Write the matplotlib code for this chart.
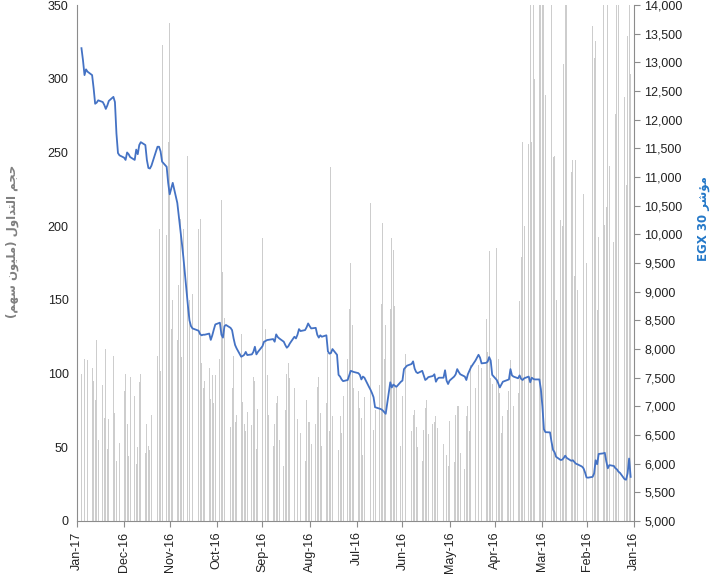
import numpy as np
import pandas as pd
import matplotlib
matplotlib.use("Agg")
import matplotlib.pyplot as plt
import matplotlib.dates as mdates
from matplotlib.ticker import MultipleLocator, FuncFormatter

# Daily volume (million shares), one value per Sun-Thu trading day of each month of 2016
vol_jan = [303, 400, 329, 228, 288, 326, 400, 400, 276, 189, 241, 400, 213, 201, 400, 193, 143, 326, 314, 336, 131]
vol_feb = [175, 205, 222, 120, 157, 245, 166, 245, 237, 400, 380, 310, 200, 204, 150, 248, 247, 400, 255, 289, 400]
vol_mar = [400, 390, 400, 300, 420, 257, 400, 256, 200, 257, 179, 149, 87, 78, 126, 109, 88, 75, 71, 60, 87, 110, 185]
vol_apr = [93, 97, 183, 115, 137, 104, 134, 106, 132, 90, 106, 61, 78, 71, 35, 46, 78, 78, 72, 40]
vol_may = [68, 37, 45, 60, 52, 62, 63, 71, 67, 66, 59, 82, 77, 62, 41, 50, 64, 75, 72, 61, 70, 113, 90]
vol_jun = [85, 51, 90, 146, 184, 192, 144, 133, 110, 202, 147, 92, 75, 62, 108, 216, 130, 84, 45, 70, 77, 88]
vol_jul = [90, 133, 175, 144, 110, 85, 60, 71, 48, 55, 71, 240, 61, 114, 80, 51, 73, 98, 91, 66, 52]
vol_aug = [67, 67, 82, 41, 60, 114, 69, 123, 90, 97, 107, 100, 75, 37, 55, 85, 80, 66, 51, 72, 99, 130, 110]
vol_sep = [192, 76, 49, 95, 98, 65, 74, 61, 66, 81, 127, 72, 67, 112, 90, 64, 85, 138, 169, 218, 110]
vol_oct = [99, 80, 99, 83, 104, 95, 90, 107, 205, 198, 162, 154, 234, 150, 248, 198, 111, 205, 160, 123, 150, 130]
vol_nov = [338, 257, 194, 323, 102, 198, 112, 117, 72, 48, 51, 66, 46, 100, 94, 50, 39, 85, 98, 44, 66, 100]
vol_dec = [88, 53, 85, 41, 73, 112, 69, 49, 117, 70, 92, 55, 123, 82, 95, 104, 109, 79, 110, 116, 100]

# EGX 30 close
egx_jan = [5770, 6090, 5830, 5720, 5730, 5840, 5860, 5900, 5920, 5960, 5975, 5920, 6040, 6190, 6180, 6170, 5990, 6060, 5830, 5770, 5756]
egx_feb = [5760, 5850, 5920, 5950, 5990, 6000, 6030, 6060, 6050, 6100, 6140, 6100, 6070, 6064, 6120, 6200, 6240, 6380, 6546, 6550, 6600]
egx_mar = [7000, 7300, 7470, 7470, 7480, 7500, 7420, 7520, 7490, 7460, 7480, 7540, 7490, 7520, 7540, 7650, 7470, 7460, 7430, 7380, 7330, 7400, 7460]
egx_apr = [7550, 7800, 7860, 7780, 7760, 7750, 7850, 7900, 7850, 7800, 7680, 7620, 7560, 7460, 7520, 7560, 7600, 7650, 7560, 7520]
egx_may = [7450, 7390, 7450, 7630, 7500, 7500, 7480, 7430, 7560, 7530, 7510, 7480, 7460, 7540, 7620, 7580, 7600, 7660, 7785, 7740, 7710, 7680, 7650]
egx_jun = [7450, 7430, 7340, 7360, 7380, 7330, 7420, 6870, 6900, 6930, 6950, 6960, 6985, 7160, 7230, 7290, 7340, 7500, 7520, 7470, 7550, 7580]
egx_jul = [7600, 7610, 7620, 7540, 7460, 7440, 7470, 7520, 7550, 7900, 8000, 7930, 7920, 7960, 8240, 8215, 8240, 8200, 8250, 8370, 8360]
egx_aug = [8400, 8447, 8380, 8331, 8314, 8348, 8250, 8186, 8215, 8099, 8050, 8023, 8070, 8128, 8186, 8210, 8256, 8128, 8174, 8160, 8157, 8140, 8128]
egx_sep = [8050, 7950, 7907, 8040, 7950, 7907, 7895, 7950, 7900, 7880, 7866, 8011, 8070, 8186, 8330, 8370, 8420, 8400, 8200, 8250, 8460]
egx_oct = [8430, 8340, 8240, 8160, 8270, 8250, 8250, 8240, 8260, 8320, 8350, 8360, 8400, 8500, 8750, 9600, 9850, 10080, 10300, 10550, 10900, 10800]
egx_nov = [10700, 10900, 11180, 11270, 11450, 11530, 11530, 11450, 11200, 11150, 11160, 11300, 11560, 11610, 11560, 11400, 11480, 11300, 11350, 11400, 11430, 11300]
egx_dec = [11340, 11380, 11420, 11760, 12310, 12400, 12330, 12250, 12190, 12260, 12310, 12340, 12300, 12280, 12550, 12780, 12840, 12880, 12780, 13040, 13250]

vols = [vol_jan, vol_feb, vol_mar, vol_apr, vol_may, vol_jun, vol_jul, vol_aug, vol_sep, vol_oct, vol_nov, vol_dec]
egxs = [egx_jan, egx_feb, egx_mar, egx_apr, egx_may, egx_jun, egx_jul, egx_aug, egx_sep, egx_oct, egx_nov, egx_dec]

# Arabic labels written in visual order with presentation forms (matplotlib does no shaping)
left_label = ("(\uFEE2\uFEEC\uFEB3 \uFEE5\uFEEE\uFEF4\uFEE0\uFEE3) "
              "\uFEDD\uFEED\uFE8D\uFEAA\uFE98\uFEDF\uFE8D \uFEE2\uFEA0\uFEA3")
right_label = "EGX 30 \uFEAE\uFEB7\uFE86\uFEE3"

dates, vol, egx = [], [], []
for m in range(12):
    start = pd.Timestamp(2016, m + 1, 1)
    days = pd.bdate_range(start, start + pd.offsets.MonthEnd(0), freq="C",
                          weekmask="Sun Mon Tue Wed Thu")
    n = min(len(days), len(vols[m]), len(egxs[m]))
    dates += list(days[:n])
    vol += vols[m][:n]
    egx += egxs[m][:n]

plt.rcParams["font.family"] = ["Liberation Sans", "DejaVu Sans"]

fig = plt.figure(figsize=(7.12, 5.76), dpi=100)
ax = fig.add_axes([0.108, 0.0955, 0.782, 0.8955])

ax.bar(dates, vol, width=0.6, color="#cdcdcd", linewidth=0)
ax.set_ylim(0, 350)
ax.yaxis.set_major_locator(MultipleLocator(50))
ax.set_xlim(pd.Timestamp("2017-01-01"), pd.Timestamp("2016-01-01"))
ax.xaxis.set_major_locator(mdates.MonthLocator())
ax.xaxis.set_major_formatter(mdates.DateFormatter("%b-%y"))
ax.tick_params(axis="x", rotation=90, labelsize=9, length=4, color="#8c8c8c", labelcolor="#222222")
ax.tick_params(axis="y", labelsize=9, length=0, pad=6, labelcolor="#222222")

ax2 = ax.twinx()
ax2.plot(dates, egx, color="#4472c4", lw=1.3)
ax2.set_ylim(5000, 14000)
ax2.yaxis.set_major_locator(MultipleLocator(500))
ax2.yaxis.set_major_formatter(FuncFormatter(lambda v, p: f"{v:,.0f}"))
ax2.tick_params(axis="y", labelsize=9, length=4, color="#8c8c8c", labelcolor="#222222")

for s in ["top", "right"]:
    ax.spines[s].set_visible(False)
for s in ["top", "left", "bottom"]:
    ax2.spines[s].set_visible(False)
for sp in [ax.spines["left"], ax.spines["bottom"], ax2.spines["right"]]:
    sp.set_color("#8c8c8c")

ax.set_ylabel(left_label, color="#808080", fontsize=8.5, fontweight="bold", family=["DejaVu Sans"])
ax.yaxis.set_label_coords(-0.104, 0.543)
ax2.set_ylabel(right_label, color="#2478c8", fontsize=8.5, fontweight="bold",
               family=["DejaVu Sans"], rotation=90)
ax2.yaxis.set_label_coords(1.113, 0.587)

fig.savefig("out.png", dpi=100)
